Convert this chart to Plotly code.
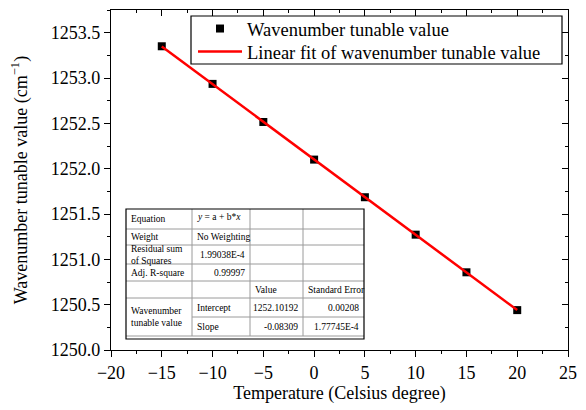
import plotly.graph_objects as go

# ---------------- data ----------------
temperature = [-15, -10, -5, 0, 5, 10, 15, 20]
wavenumber = [1253.350, 1252.935, 1252.515, 1252.100, 1251.685, 1251.272, 1250.857, 1250.440]
fit_intercept = 1252.10192
fit_slope = -0.08309
fit_x = [min(temperature), max(temperature)]
fit_y = [fit_intercept + fit_slope * t for t in fit_x]

x_range = [-20, 25]
y_range = [1250.0, 1253.75]

table_col1 = ["Equation", "Weight", "Residual sum<br>of Squares", "Adj. R-square", "", "Wavenumber<br>tunable value"]
table_col2 = ["<i>y</i> = a + b*<i>x</i>", "No Weighting", "1.99038E-4", "0.99997", "", "Intercept", "Slope"]
table_col3 = ["", "", "", "", "Value", "1252.10192", "-0.08309"]
table_col4 = ["", "", "", "", "Standard Error", "0.00208", "1.77745E-4"]

FONT = "Liberation Serif"

# page body has an 8px margin: the figure starts at (8, 8) in the window
OFF = 8
W, H = 586 - OFF, 410 - OFF
L, R, T, B = 111, 568, 10, 350   # plot area in window pixels

def px(xp):
    return (xp - L) / (R - L)

def py(yp):
    return (B - yp) / (B - T)

# ---------------- figure ----------------
fig = go.Figure()
fig.add_trace(go.Scatter(
    x=temperature, y=wavenumber, mode="markers",
    marker=dict(symbol="square", size=8, color="black", line=dict(width=0)),
    name="Wavenumber tunable value", legend="legend"))
fig.add_trace(go.Scatter(
    x=fit_x, y=fit_y, mode="lines",
    line=dict(color="#ff0000", width=2.5),
    name="Linear fit of wavenumber tunable value", legend="legend2"))
fig.add_trace(go.Scatter(x=[None], y=[None], xaxis="x2", yaxis="y2", showlegend=False, hoverinfo="skip"))

axis_common = dict(showgrid=False, zeroline=False, showline=True, linecolor="black", linewidth=1.3,
                   tickcolor="black", tickwidth=1.2, ticklen=6,
                   tickfont=dict(family=FONT, size=18, color="black"))

leg_common = dict(xanchor="left", yanchor="middle", borderwidth=0, bgcolor="rgba(0,0,0,0)",
                  font=dict(family=FONT, size=18.5, color="black"), itemwidth=44)

fig.update_layout(
    width=W, height=H,
    margin=dict(l=L - OFF, r=586 - R, t=T - OFF, b=410 - B, pad=0),
    paper_bgcolor="white", plot_bgcolor="white",
    font=dict(family=FONT, color="black"),
    xaxis=dict(range=x_range, dtick=5, tick0=0, ticks="outside",
               minor=dict(ticks="outside", dtick=2.5, tick0=0, ticklen=3, tickcolor="black", tickwidth=1.2),
               title=dict(text="Temperature (Celsius degree)", font=dict(family=FONT, size=18), standoff=4),
               **axis_common),
    yaxis=dict(range=y_range, dtick=0.5, tick0=0, tickformat=".1f", ticks="outside",
               minor=dict(ticks="outside", dtick=0.25, tick0=0, ticklen=3, tickcolor="black", tickwidth=1.2),
               title=dict(text="Wavenumber tunable value (cm<sup>\u22121</sup>)", font=dict(family=FONT, size=18), standoff=18),
               **axis_common),
    xaxis2=dict(range=x_range, overlaying="x", side="top", dtick=5, tick0=0, ticks="inside",
                showticklabels=False, showgrid=False, zeroline=False, showline=True, linecolor="black", linewidth=1.3,
                tickcolor="black", tickwidth=1.2, ticklen=6,
                minor=dict(ticks="inside", dtick=2.5, tick0=0, ticklen=3, tickcolor="black", tickwidth=1.2)),
    yaxis2=dict(range=y_range, overlaying="y", side="right", dtick=0.5, tick0=0, ticks="inside",
                showticklabels=False, showgrid=False, zeroline=False, showline=True, linecolor="black", linewidth=1.3,
                tickcolor="black", tickwidth=1.2, ticklen=6,
                minor=dict(ticks="inside", dtick=0.25, tick0=0, ticklen=3, tickcolor="black", tickwidth=1.2)),
    legend=dict(x=px(193), y=py(29), **leg_common),
    legend2=dict(x=px(193), y=py(52), **leg_common),
    showlegend=True,
)

shapes = []
# legend frame
shapes.append(dict(type="rect", xref="paper", yref="paper", x0=px(191), x1=px(562), y0=py(64), y1=py(16),
                   fillcolor="white", line=dict(color="black", width=1.2), layer="above"))

# ---------------- fit table ----------------
cols = [126, 192, 250, 303, 364]
rows = [209, 229, 245, 264, 281, 298, 317, 336]
tbl_bottom = 339
shapes.append(dict(type="rect", xref="paper", yref="paper", x0=px(cols[0]), x1=px(cols[-1]),
                   y0=py(tbl_bottom), y1=py(rows[0]), fillcolor="white", line=dict(width=0), layer="above"))
grey = dict(color="#9a9a9a", width=1)
for i, yy in enumerate(rows[1:-1], start=1):
    x_start = cols[1] if i == 6 else cols[0]
    shapes.append(dict(type="line", xref="paper", yref="paper", x0=px(x_start), x1=px(cols[-1]),
                       y0=py(yy), y1=py(yy), line=grey, layer="above"))
shapes.append(dict(type="line", xref="paper", yref="paper", x0=px(cols[0]), x1=px(cols[-1]),
                   y0=py(rows[-1]), y1=py(rows[-1]), line=grey, layer="above"))
for xx in cols[1:-1]:
    shapes.append(dict(type="line", xref="paper", yref="paper", x0=px(xx), x1=px(xx),
                       y0=py(rows[-1]), y1=py(rows[0]), line=grey, layer="above"))
shapes.append(dict(type="rect", xref="paper", yref="paper", x0=px(cols[0]), x1=px(cols[-1]),
                   y0=py(tbl_bottom), y1=py(rows[0]), line=dict(color="black", width=1.2), layer="above"))
fig.update_layout(shapes=shapes)

tfont = dict(family=FONT, size=9.5, color="black")
annots = []
def cell(text, c, r, align="left", r_span=1, valign="middle"):
    y_top, y_bot = rows[r], rows[r + r_span]
    if align == "left":
        xx, xa = cols[c] + 3, "left"
    else:
        xx, xa = cols[c + 1] - 3, "right"
    if valign == "top":
        yy, ya = y_top + 1, "top"
    else:
        yy, ya = (y_top + y_bot) / 2, "middle"
    annots.append(dict(text=text, x=px(xx), y=py(yy), xref="paper", yref="paper",
                       xanchor=xa, yanchor=ya, showarrow=False, font=tfont, align="left"))

cell(table_col1[0], 0, 0)
cell(table_col1[1], 0, 1)
cell(table_col1[2], 0, 2)
cell(table_col1[3], 0, 3)
cell(table_col1[5], 0, 5, r_span=2)
cell(table_col2[0], 1, 0, valign="top")
cell(table_col2[1], 1, 1)
cell(table_col2[2], 1, 2, align="right")
cell(table_col2[3], 1, 3, align="right")
cell(table_col2[5], 1, 5)
cell(table_col2[6], 1, 6)
cell(table_col3[4], 2, 4)
cell(table_col3[5], 2, 5, align="right")
cell(table_col3[6], 2, 6, align="right")
cell(table_col4[4], 3, 4)
cell(table_col4[5], 3, 5, align="right")
cell(table_col4[6], 3, 6, align="right")
fig.update_layout(annotations=annots)

fig.write_html("out.html")
